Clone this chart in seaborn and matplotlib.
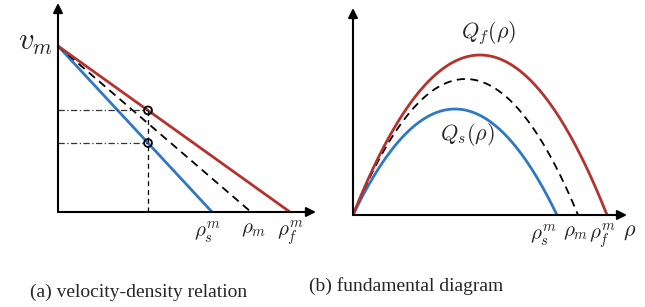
import numpy as np
import matplotlib
matplotlib.use("Agg")
import matplotlib.pyplot as plt
import seaborn as sns

sns.set_style("white")
plt.rcParams["mathtext.fontset"] = "cm"
plt.rcParams["font.family"] = ["Liberation Serif", "DejaVu Serif"]

# panel (a): velocity-density lines (rho normalised by rho_f^m, v by v_m)
rho_max_a = [0.664, 0.832, 1.0]          # rho_s^m, rho_m, rho_f^m
v_max = 1.0
rho_mark = 0.388                          # density where the circles sit
labels_a = [r"$\rho_s^m$", r"$\rho_m$", r"$\rho_f^m$"]

# panel (b): fundamental diagram (parabolas)
rho_max_b = [0.803, 0.886, 1.0]
q_peak = [0.6625, 0.85, 1.0]
labels_b = [r"$\rho_s^m$", r"$\rho_m$", r"$\rho_f^m$"]

red = "#b5332e"
blue = "#2f78c4"
styles = [dict(color=blue, lw=2.0), dict(color="black", lw=1.3, ls=(0, (4.5, 3))),
          dict(color=red, lw=2.0)]

W, H = 645, 307
fig = plt.figure(figsize=(W / 100, H / 100), dpi=100)


def make_ax(x0, y0, w, h):
    ax = fig.add_axes([x0 / W, (H - y0) / H, w / W, h / H])
    ax.set_axis_off()
    for end in [(1, 0), (0, 1)]:
        ax.annotate("", xy=end, xytext=(0, 0), xycoords="axes fraction",
                    arrowprops=dict(arrowstyle="-|>", color="black", lw=1.5,
                                    mutation_scale=14, shrinkA=0, shrinkB=0))
    return ax


# ---------- (a) ----------
ax1 = make_ax(58, 212, 258, 209)
ax1.set_xlim(0, 258 / 232)
ax1.set_ylim(0, 209 / 166)
for rm, st in zip(rho_max_a, styles):
    sns.lineplot(x=[0, rm], y=[v_max, 0], ax=ax1, **st)

v_circ = [v_max * (1 - rho_mark / rho_max_a[2]), v_max * (1 - rho_mark / rho_max_a[0])]
ax1.plot([rho_mark, rho_mark], [0, v_circ[0]], color="black", lw=0.9, ls=(0, (4, 3)))
for vc in v_circ:
    ax1.plot([0, rho_mark], [vc, vc], color="#333333", lw=0.9, ls=(0, (5, 2, 1, 2)))
ax1.scatter([rho_mark] * 2, v_circ, s=32, facecolors="none", edgecolors="black",
            linewidths=1.3, zorder=5)

ax1.text(-0.02, v_max + 0.02, r"$v_m$", fontsize=22, ha="right", va="center")
for rm, lab, dx in zip(rho_max_a, labels_a, [-0.02, 0.01, 0.0]):
    ax1.text(rm + dx, -0.05, lab, fontsize=15, ha="center", va="top")

# ---------- (b) ----------
ax2 = make_ax(353, 215, 274, 207)
ax2.set_xlim(0, 274 / 254)
ax2.set_ylim(0, 207 / 160)
for rm, qp, st in zip(rho_max_b, q_peak, styles):
    r = np.linspace(0, rm, 200)
    q = 4 * qp * r * (rm - r) / rm ** 2
    sns.lineplot(x=r, y=q, ax=ax2, **st)

ax2.text(0.535, 1.14, r"$Q_f(\rho)$", fontsize=16, ha="center", va="center")
ax2.text(0.45, 0.5, r"$Q_s(\rho)$", fontsize=16, ha="center", va="center")
for rm, lab, dx in zip(rho_max_b, labels_b, [-0.055, -0.01, -0.02]):
    ax2.text(rm + dx, -0.05, lab, fontsize=15, ha="center", va="top")
ax2.text(1.09, -0.05, r"$\rho$", fontsize=16, ha="center", va="top")

# captions
fig.text(139 / W, 1 - 292 / H, "(a) velocity-density relation", fontsize=14,
         ha="center", va="center")
fig.text(406 / W, 1 - 286 / H, "(b) fundamental diagram", fontsize=14,
         ha="center", va="center")

fig.savefig("out.png", dpi=100)
